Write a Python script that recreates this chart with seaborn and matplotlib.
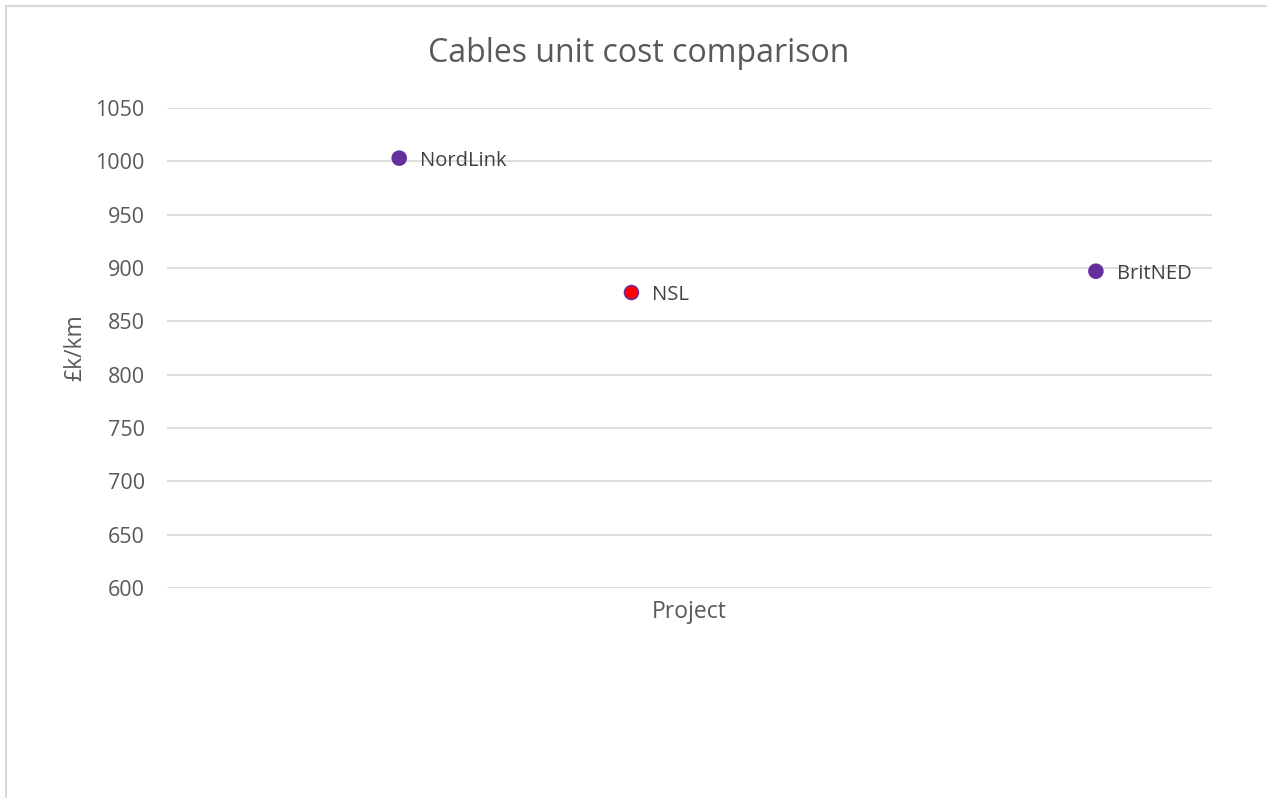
import matplotlib
matplotlib.use("Agg")
import matplotlib.pyplot as plt
import seaborn as sns
import pandas as pd
from matplotlib.patches import Rectangle

projects = ["NordLink", "NSL", "BritNED"]
x_pos = [1, 2, 4]
cost = [1003, 877, 897]
fill_colors = ["#66309C", "#FF0000", "#66309C"]
y_ticks = [600, 650, 700, 750, 800, 850, 900, 950, 1000, 1050]

sns.set_theme(style="white")
plt.rcParams['font.family'] = ['Open Sans', 'DejaVu Sans']

df = pd.DataFrame({"project": projects, "x": x_pos, "cost": cost})

fig = plt.figure(figsize=(12.67, 7.98), dpi=100)
ax = fig.add_axes([167/1267, 1-588/798, (1212-167)/1267, (588-108)/798])

sns.scatterplot(data=df, x="x", y="cost", hue="project",
                palette=dict(zip(projects, fill_colors)),
                s=100, edgecolor="#66309C", linewidth=1.2, legend=False, ax=ax, zorder=3)

for xi, yi, name in zip(x_pos, cost, projects):
    ax.annotate(name, (xi, yi), xytext=(15, -2), textcoords="offset points",
                va="center", ha="left", fontsize=14.5, color="#404040")

ax.set_xlim(0, 4.5)
ax.set_ylim(600, 1050)
ax.set_yticks(y_ticks)
ax.set_xticks([])
ax.grid(axis="y", color="#D9D9D9", linewidth=1.2)
for s in ax.spines.values():
    s.set_visible(False)
ax.tick_params(axis="y", length=0, labelsize=15.5, labelcolor="#595959", pad=16)
ax.set_xlabel("Project", fontsize=16.5, color="#595959", labelpad=9)
ax.set_ylabel("£k/km", fontsize=16.5, color="#595959", labelpad=6)

fig.text(638.5/1267, 1-53/798, "Cables unit cost comparison", fontsize=23,
         color="#595959", ha="center", va="center")

fig.patches.append(Rectangle((6/1267, -0.1), 1.2, 1 - 6/798 + 0.1,
                             transform=fig.transFigure, fill=False,
                             edgecolor="#D9D9D9", linewidth=1.5))

fig.savefig("out.png", dpi=100, facecolor="white")
